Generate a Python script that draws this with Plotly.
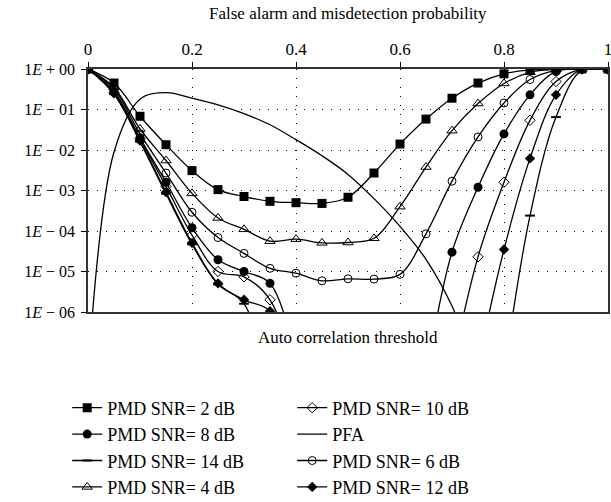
import plotly.graph_objects as go

thresholds = [round(i * 0.05, 2) for i in range(21)]

pmd_2db = [1, 0.45, 0.068, 0.0135, 0.0031, 0.00105, 7.1e-4, 5.4e-4, 5.0e-4, 4.8e-4,
           6.8e-4, 2.7e-3, 0.014, 0.058, 0.19, 0.45, 0.76, 0.95, 1, 1, 1]
pmd_4db = [1, 0.35, 0.033, 0.0055, 8.5e-4, 2.1e-4, 1.1e-4, 5.6e-5, 6.3e-5, 5.1e-5,
           5.2e-5, 6.6e-5, 4.0e-4, 3.8e-3, 0.030, 0.14, 0.44, 0.83, 0.98, 1, 1]
pmd_6db = [1, 0.32, 0.025, 2.7e-3, 2.9e-4, 6.9e-5, 2.8e-5, 1.2e-5, 9.1e-6, 5.9e-6,
           6.6e-6, 6.5e-6, 8.5e-6, 8.5e-5, 1.7e-3, 0.021, 0.145, 0.55, 0.93, 1, 1]
pmd_8db = [1, 0.28, 0.02, 1.6e-3, 1.2e-4, 1.95e-5, 1.0e-5, 5.1e-6, 6e-8, None,
           None, None, None, 2.5e-8, 3.0e-5, 1.2e-3, 0.025, 0.23, 0.87, 1, 1]
pmd_10db = [1, 0.26, 0.019, 1.26e-3, 7.9e-5, 1.0e-5, 7.4e-6, 2.0e-6, 3e-8, None,
            None, None, None, None, 4e-8, 2.3e-5, 1.6e-3, 0.054, 0.49, 1, 1]
pmd_12db = [1, 0.25, 0.017, 9.1e-4, 5.1e-5, 5.1e-6, 2.0e-6, 1.05e-6, 3e-8, None,
            None, None, None, None, None, 5e-8, 3.5e-5, 6.2e-3, 0.23, 1, 1]
pmd_14db = [1, 0.24, 0.016, 8.3e-4, 4.7e-5, 4.8e-6, 1.6e-6, 1e-8, None, None,
            None, None, None, None, None, None, 3e-8, 2.4e-4, 0.065, 0.95, 1]
pfa = [3e-8, 8.9e-3, 0.18, 0.26, 0.19, 0.13, 0.079, 0.042, 0.018, 7.2e-3,
       2.5e-3, 6.3e-4, 1.3e-4, 2.0e-5, 1.4e-6, 3e-8, None, None, None, None, None]

x_ticks = [0, 0.2, 0.4, 0.6, 0.8, 1]
x_ticktext = ["0", "0.2", "0.4", "0.6", "0.8", "1"]
y_ticks = [1, 1e-1, 1e-2, 1e-3, 1e-4, 1e-5, 1e-6]
y_ticktext = ["1<i>E</i> + 00", "1<i>E</i> − 01", "1<i>E</i> − 02", "1<i>E</i> − 03",
              "1<i>E</i> − 04", "1<i>E</i> − 05", "1<i>E</i> − 06"]

FONT = "Liberation Serif"

# legend order (row-major, two columns)
series = [
    ("PMD SNR= 2 dB", pmd_2db, "square", 9, 0),
    ("PMD SNR= 10 dB", pmd_10db, "diamond-open", 8, 1),
    ("PMD SNR= 8 dB", pmd_8db, "circle", 9, 0),
    ("PFA", pfa, None, 0, 0),
    ("PMD SNR= 14 dB", pmd_14db, "line-ew", 7, 2),
    ("PMD SNR= 6 dB", pmd_6db, "circle-open", 8, 1),
    ("PMD SNR= 4 dB", pmd_4db, "triangle-up-open", 9, 1),
    ("PMD SNR= 12 dB", pmd_12db, "diamond", 8, 0),
]

fig = go.Figure()
for name, vals, sym, size, lw in series:
    if sym is None:
        fig.add_trace(go.Scatter(
            x=thresholds, y=vals, name=name, mode="lines",
            line=dict(color="black", width=1.3, shape="spline"),
        ))
    else:
        fig.add_trace(go.Scatter(
            x=thresholds, y=vals, name=name, mode="lines+markers",
            line=dict(color="black", width=1.3, shape="spline"),
            marker=dict(symbol=sym, size=size, color="black",
                        line=dict(color="black", width=lw)),
        ))

fig.update_layout(
    width=611, height=502,
    margin=dict(l=88, r=3, t=69, b=190, autoexpand=False),
    paper_bgcolor="white", plot_bgcolor="white",
    font=dict(family=FONT, size=16, color="black"),
    showlegend=True,
    legend=dict(
        orientation="h", x=-0.04, xanchor="left", y=-0.319, yanchor="top",
        entrywidth=180, entrywidthmode="pixels",
        font=dict(family=FONT, size=18, color="black"),
        bgcolor="rgba(0,0,0,0)",
    ),
    xaxis=dict(
        side="top", range=[0, 1], tickvals=x_ticks, ticktext=x_ticktext,
        ticks="outside", ticklen=5, tickcolor="black", automargin=False,
        ticklabeloverflow="allow",
        showline=True, linecolor="#333", linewidth=1.5, mirror=True,
        showgrid=True, gridcolor="black", gridwidth=1, griddash="1px,8px",
        zeroline=False, tickfont=dict(family=FONT, size=17),
    ),
    yaxis=dict(
        type="log", range=[-6, 0], tickvals=y_ticks, ticktext=y_ticktext,
        ticks="outside", ticklen=5, tickcolor="black", automargin=False,
        ticklabelstandoff=3,
        showline=True, linecolor="#333", linewidth=1.5, mirror=True,
        showgrid=True, gridcolor="black", gridwidth=1, griddash="1px,8px",
        zeroline=False, tickfont=dict(family=FONT, size=16),
    ),
    annotations=[
        dict(text="False alarm and misdetection probability", xref="paper", yref="paper",
             x=0.5, y=1.228, yanchor="middle", showarrow=False,
             font=dict(family=FONT, size=17)),
        dict(text="Auto correlation threshold", xref="paper", yref="paper",
             x=0.5, y=-0.103, yanchor="middle", showarrow=False,
             font=dict(family=FONT, size=17)),
    ],
)

fig.write_html("out.html", config={"displayModeBar": False},
               post_script="document.body.style.margin='0';")
